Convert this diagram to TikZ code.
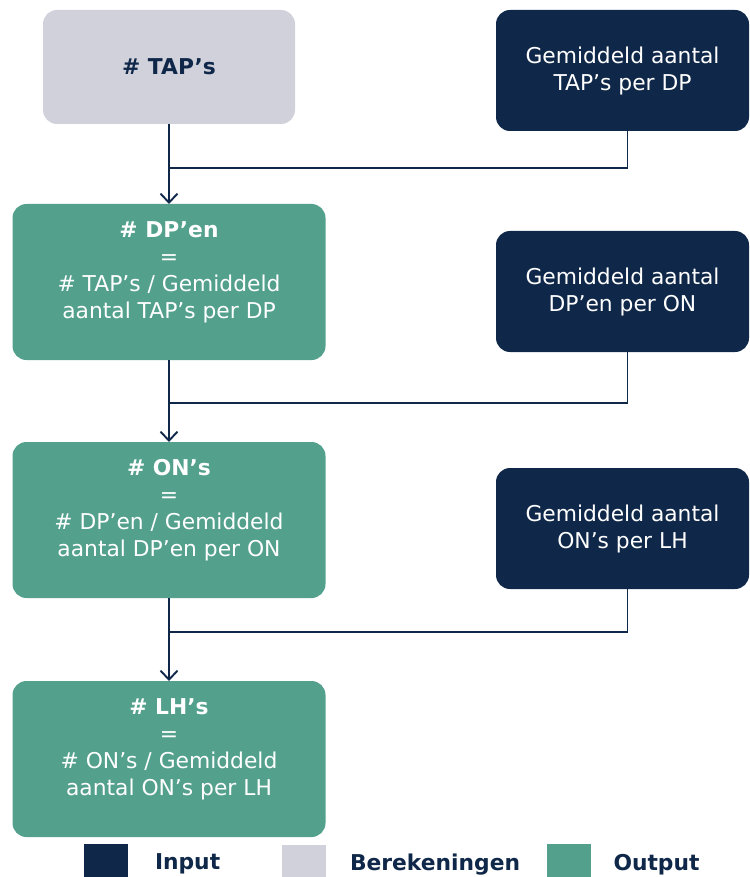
\documentclass[tikz,border=0pt]{standalone}
\usepackage{fontspec}
\setmainfont{DejaVu Sans}
\usetikzlibrary{positioning,arrows.meta}
\definecolor{navy}{HTML}{0F2748}
\definecolor{calcgray}{HTML}{D1D1DC}
\definecolor{outgreen}{HTML}{53A08D}
\begin{document}
\begin{tikzpicture}[x=1pt, y=-1pt, align=center, line width=1.9pt,
    >={Straight Barb[length=9pt,width=17pt]},
    every node/.style={font=\fontsize{21.8}{27}\selectfont, outer sep=0pt},
    calcbox/.style={fill=calcgray, text=navy, rounded corners=14pt, minimum width=252pt, minimum height=114pt},
    inbox/.style={fill=navy, text=white, rounded corners=14pt, minimum width=253pt, minimum height=121pt},
    outbox/.style={fill=outgreen, text=white, rounded corners=14pt, minimum width=313pt, minimum height=156pt, text depth=24pt},
    legbox/.style={minimum width=44pt, minimum height=33pt, inner sep=0pt},
    legtext/.style={text=navy, inner sep=0pt, yshift=-4pt, font=\fontsize{21.8}{27}\selectfont\bfseries}]
    \useasboundingbox (0,0) rectangle (749,877);

    \node(tap) [calcbox] at (169,67)        {\textbf{\# TAP’s}};
    \node(dp) [outbox, below=80pt of tap]   {\textbf{\# DP’en}\\=\\\# TAP’s / Gemiddeld\\aantal TAP’s per DP};
    \node(on) [outbox, below=82pt of dp]    {\textbf{\# ON’s}\\=\\\# DP’en / Gemiddeld\\aantal DP’en per ON};
    \node(lh) [outbox, below=83pt of on]    {\textbf{\# LH’s}\\=\\\# ON’s / Gemiddeld\\aantal ON’s per LH};

    \node(in1) [inbox] at (622.5,70.5)      {Gemiddeld aantal\\TAP’s per DP};
    \node(in2) [inbox, below=100pt of in1]  {Gemiddeld aantal\\DP’en per ON};
    \node(in3) [inbox, below=116pt of in2]  {Gemiddeld aantal\\ON’s per LH};

    \coordinate[below=44pt of tap.south] (j1);
    \coordinate[below=43pt of dp.south] (j2);
    \coordinate[below=34pt of on.south] (j3);

    \draw [->][draw=navy] (tap) -- (dp);
    \draw [->][draw=navy] (dp) -- (on);
    \draw [->][draw=navy] (on) -- (lh);
    \draw [draw=navy] ([xshift=5pt]in1.south) |- (j1);
    \draw [draw=navy] ([xshift=5pt]in2.south) |- (j2);
    \draw [draw=navy] ([xshift=5pt]in3.south) |- (j3);

    % legend
    \node(legin) [legbox, fill=navy] at (106,860) {};
    \node(legintext) [legtext, right=27pt of legin] {Input};
    \node(legcalc) [legbox, fill=calcgray] at (304,861) {};
    \node(legcalctext) [legtext, right=24pt of legcalc] {Berekeningen};
    \node(legout) [legbox, fill=outgreen] at (568.5,860.5) {};
    \node(legouttext) [legtext, right=23pt of legout] {Output};
\end{tikzpicture}
\end{document}
